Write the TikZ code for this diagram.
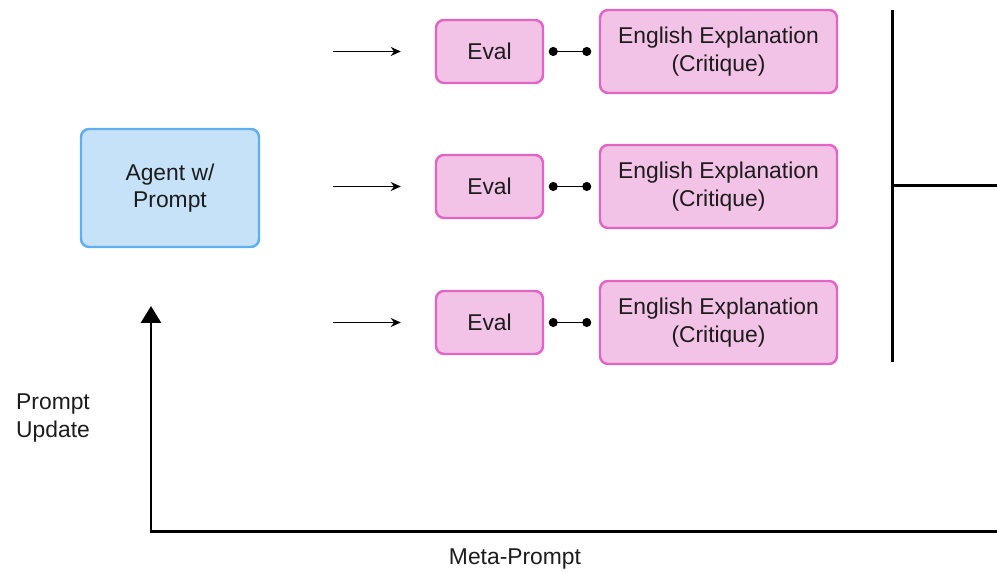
\documentclass[tikz,border=0pt]{standalone}
\usepackage{fontspec}
\setmainfont{Liberation Sans}
\usetikzlibrary{arrows.meta}

\definecolor{agentfill}{HTML}{C6E2F9}
\definecolor{agentline}{HTML}{5FAEEF}
\definecolor{evalfill}{HTML}{F3C2E7}
\definecolor{evalline}{HTML}{E264C4}
\definecolor{ink}{HTML}{1C1C1C}

\tikzset{
  agentbox/.style={draw=agentline, fill=agentfill, line width=1.4pt, rounded corners=0.16cm,
    minimum width=3.56cm, minimum height=2.36cm, align=center, text=ink,
    font=\fontsize{13}{15.5}\selectfont},
  evalbox/.style={draw=evalline, fill=evalfill, line width=1.4pt, rounded corners=0.16cm,
    minimum width=2.14cm, minimum height=1.26cm, align=center, text=ink,
    font=\fontsize{13}{15.5}\selectfont},
  critbox/.style={evalbox, minimum width=4.74cm, minimum height=1.66cm},
  label/.style={text=ink, font=\fontsize{13}{15.5}\selectfont, align=left},
  feed/.style={-{Stealth[length=0.2cm, width=0.18cm]}, line width=1pt, shorten >=0.68cm},
  link/.style={{Circle[length=0.18cm]}-{Circle[length=0.18cm]}, line width=1pt,
    shorten <=0.09cm, shorten >=0.15cm},
  bar/.style={line width=1.7pt}
}

\begin{document}
\begin{tikzpicture}
    \useasboundingbox (0,0) rectangle (19.94,11.44);

    % Draw the agent
    \node[agentbox] (agent) at (3.4,7.68) {Agent w/\\Prompt};

    % Draw the three evals with their critiques
    \node[evalbox] (eval1) at (9.79,10.41) {Eval};
    \node[evalbox] (eval2) at (9.79,7.71) {Eval};
    \node[evalbox] (eval3) at (9.79,4.99) {Eval};
    \node[critbox] (crit1) at (14.37,10.41) {English Explanation\\(Critique)};
    \node[critbox] (crit2) at (14.37,7.71) {English Explanation\\(Critique)};
    \node[critbox] (crit3) at (14.37,4.99) {English Explanation\\(Critique)};

    % Draw the incoming arrows
    \coordinate (in1) at (6.66,10.41);
    \coordinate (in2) at (6.66,7.71);
    \coordinate (in3) at (6.66,4.99);
    \draw[feed] (in1) -- (eval1);
    \draw[feed] (in2) -- (eval2);
    \draw[feed] (in3) -- (eval3);

    % Draw the links
    \draw[link] (eval1) -- (crit1);
    \draw[link] (eval2) -- (crit2);
    \draw[link] (eval3) -- (crit3);

    % Draw the collecting bracket
    \coordinate (brtop) at (17.84,11.24);
    \coordinate (brbot) at (17.84,4.2);
    \coordinate (brmid) at (17.84,7.72);
    \coordinate (brout) at (19.94,7.72);
    \draw[bar] (brtop) -- (brbot);
    \draw[bar] (brmid) -- (brout);

    % Draw the loop back to the agent
    \coordinate (loopin) at (19.94,0.8);
    \coordinate (update) at (3.02,5.32);
    \draw[bar, -{Triangle[length=0.34cm, width=0.4cm]}] (loopin) -| (update);
    \node[label, anchor=west] (upd) at (0.2,3.08) {Prompt\\Update};
    \node[label] (meta) at (10.3,0.26) {Meta-Prompt};
\end{tikzpicture}
\end{document}
